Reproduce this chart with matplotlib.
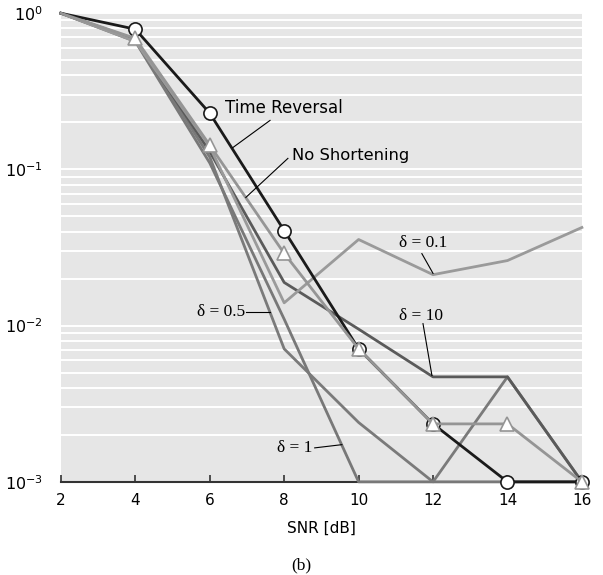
import matplotlib
matplotlib.use("Agg")
import matplotlib.pyplot as plt
from matplotlib.ticker import LogLocator, NullFormatter

snr = [2, 4, 6, 8, 10, 12, 14, 16]
time_reversal = [1.0, 0.79, 0.229, 0.0406, 0.0071, 0.00235, 0.001, 0.001]
no_shortening = [1.0, 0.69, 0.143, 0.029, 0.0071, 0.00235, 0.00235, 0.001]
delta_01 = [1.0, 0.66, 0.14, 0.014, 0.0356, 0.0212, 0.0261, 0.0425]
delta_10 = [1.0, 0.68, 0.13, 0.0189, 0.0095, 0.0047, 0.0047, 0.001]
delta_05 = [1.0, 0.67, 0.12, 0.0071, 0.0024, 0.001, 0.0047, 0.001]
delta_1 = [1.0, 0.66, 0.11, 0.011, 0.001, 0.001, 0.001, 0.001]

fig = plt.figure(figsize=(6.03, 5.75), dpi=100)
ax = fig.add_axes([0.101, 0.162, 0.864, 0.815])
ax.set_facecolor("#e6e6e6")
ax.set_yscale("log")
ax.set_ylim(1e-3, 1)
ax.set_xlim(2, 16)

ax.yaxis.set_minor_locator(LogLocator(base=10, subs=range(2, 10)))
ax.yaxis.set_minor_formatter(NullFormatter())
ax.grid(axis="y", which="both", color="white", lw=1.4)
ax.set_axisbelow(True)

for s in ["top", "right", "left"]:
    ax.spines[s].set_visible(False)
ax.spines["bottom"].set_color("#333333")
ax.spines["bottom"].set_linewidth(1.5)
ax.spines["bottom"].set_zorder(1)

ax.tick_params(axis="y", which="both", length=0, labelsize=11.5, pad=13)
ax.tick_params(axis="x", direction="in", length=5, width=1.2, color="#333333",
               labelsize=11, pad=8)
ax.set_xticks(snr)

kw = dict(clip_on=False)
ax.plot(snr, delta_1, color="#787878", lw=2, zorder=3, **kw)
ax.plot(snr, delta_05, color="#7a7a7a", lw=2, zorder=3, **kw)
ax.plot(snr, delta_10, color="#5a5a5a", lw=2, zorder=3, **kw)
ax.plot(snr, delta_01, color="#9a9a9a", lw=2, zorder=3, **kw)
ax.plot(snr, time_reversal, color="#1a1a1a", lw=2, zorder=4,
        marker="o", markevery=list(range(1, 8)), markersize=9.5,
        markerfacecolor="white", markeredgecolor="#1a1a1a", markeredgewidth=1.2, **kw)
ax.plot(snr, no_shortening, color="#959595", lw=2, zorder=5,
        marker="^", markevery=list(range(1, 8)), markersize=10.5,
        markerfacecolor="white", markeredgecolor="#959595", markeredgewidth=1.2, **kw)

sans = "DejaVu Sans"
serif = "Liberation Serif"
lead = dict(color="black", lw=0.8, zorder=6)

ax.text(6.41, 0.246, "Time Reversal", fontsize=12, family=sans, va="center", ha="left")
ax.plot([7.62, 6.62], [0.206, 0.138], **lead)

ax.text(8.22, 0.123, "No Shortening", fontsize=11.8, family=sans, va="center", ha="left")
ax.plot([8.10, 6.97], [0.1177, 0.0662], **lead)

ax.text(11.73, 0.0336, "δ = 0.1", fontsize=12.5, family=serif, va="center", ha="center")
ax.plot([11.70, 12.0], [0.0289, 0.0216], **lead)

ax.text(11.68, 0.0116, "δ = 10", fontsize=12.5, family=serif, va="center", ha="center")
ax.plot([11.73, 11.97], [0.0103, 0.0048], **lead)

ax.text(6.95, 0.0123, "δ = 0.5", fontsize=12.5, family=serif, va="center", ha="right")
ax.plot([6.97, 7.62], [0.0123, 0.0123], **lead)

ax.text(8.77, 0.00165, "δ = 1", fontsize=12.5, family=serif, va="center", ha="right")
ax.plot([8.82, 9.55], [0.00165, 0.00173], **lead)

ax.set_xlabel("SNR [dB]", fontsize=11, family=sans, labelpad=9)
fig.text(0.5, 0.002, "(b)", ha="center", va="bottom", fontsize=12.5, family=serif)

fig.savefig("out.png", dpi=100)
